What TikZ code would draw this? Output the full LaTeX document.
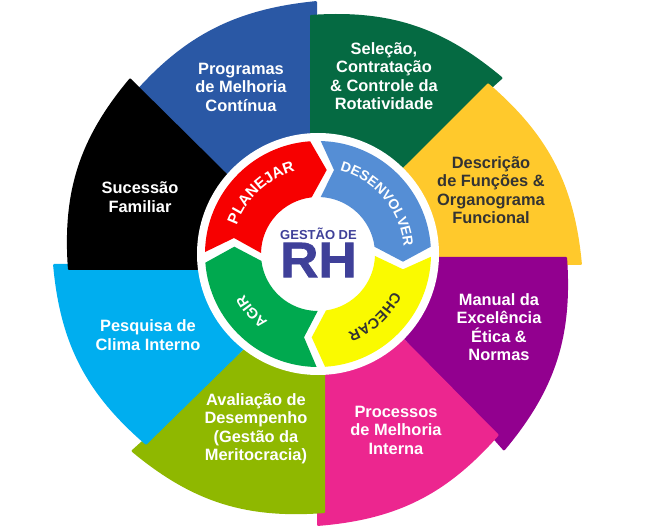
\documentclass[tikz,border=0pt]{standalone}
\usepackage{fontspec}
\setmainfont{Liberation Sans}
\newfontfamily\rhfont[BoldFeatures={FakeBold=1.2}]{Liberation Sans}
\usetikzlibrary{decorations.text}
\definecolor{petalblue}{HTML}{2A58A5}
\definecolor{petalgreen}{HTML}{056A42}
\definecolor{petalyellow}{HTML}{FFC92C}
\definecolor{petalpurple}{HTML}{92008F}
\definecolor{petalpink}{HTML}{EC268F}
\definecolor{petalolive}{HTML}{8FB800}
\definecolor{petalcyan}{HTML}{00AEEF}
\definecolor{ringred}{HTML}{F70000}
\definecolor{ringblue}{HTML}{558ED5}
\definecolor{ringyellow}{HTML}{FAFA00}
\definecolor{ringgreen}{HTML}{00A94F}
\definecolor{coreblue}{HTML}{3F4099}
\definecolor{darktext}{HTML}{333333}
\newcommand{\ringfont}{\fontsize{14.6}{14.6}\selectfont\bfseries}
\newcommand{\wideringfont}{\fontsize{15.4}{15.4}\selectfont\bfseries}
\newcommand{\longringfont}{\fontsize{14}{14}\selectfont\bfseries}

\begin{document}
\begin{tikzpicture}[x=1pt,y=-1pt,
    petal/.style={rounded corners=1pt},
    petal text/.style={font=\fontsize{16.4}{18.5}\selectfont\bfseries,align=center,text=white,inner sep=0pt},
    ring text/.style={decorate,decoration={text along path,text align=center,text={#1}}}]
    \useasboundingbox (0,0) rectangle (650,526);
    \coordinate (cent) at (318,254);

    \fill[petal,petalblue] (128,100) to[bend left=22] (317,1) -- (317,262) -- (225,172) -- cycle;
    \fill[petal,petalgreen] (310,15) to[bend left=22] (503,78) -- (404,167) -- (310,262) -- cycle;
    \fill[petal,petalyellow] (488,83) to[bend left=22] (582,265) -- (317,265) -- (404,167) -- cycle;
    \fill[petal,petalpurple] (567,257) to[bend left=22] (504,451) -- (405,340) -- (317,257) -- cycle;
    \fill[petal,petalpink] (499,435) to[bend left=22] (317,526) -- (317,257) -- (405,340) -- cycle;
    \fill[petal,petalolive] (325,513) to[bend left=22] (131,451) -- (243,350) -- (325,257) -- cycle;
    \fill[petal,petalcyan] (146,445) to[bend left=22] (53,264) -- (317,264) -- (243,350) -- cycle;
    \fill[petal,black] (68,270) to[bend left=22] (130,78) -- (225,172) -- (317,262) -- (317,270) -- cycle;

    \fill[white] (cent) circle[radius=121];

    \fill[ringred] ([shift={(181:113)}]cent) arc[start angle=181,end angle=266,radius=113]
        -- (326.7,170) -- ([shift={(263.6:57)}]cent) arc[start angle=263.6,end angle=181,radius=57]
        -- (234,238) -- cycle;
    \fill[ringblue] ([shift={(271.4:113)}]cent) arc[start angle=271.4,end angle=356.3,radius=113]
        -- (403,261.7) -- ([shift={(352.7:57)}]cent) arc[start angle=352.7,end angle=272.7,radius=57]
        -- (334,170) -- cycle;
    \fill[ringyellow] ([shift={(1.4:113)}]cent) arc[start angle=1.4,end angle=86.4,radius=113]
        -- (311.7,337.3) -- ([shift={(81.9:57)}]cent) arc[start angle=81.9,end angle=2,radius=57]
        -- (403,269.3) -- cycle;
    \fill[ringgreen] ([shift={(90.7:113)}]cent) arc[start angle=90.7,end angle=175.6,radius=113]
        -- (234.3,246.7) -- ([shift={(173:57)}]cent) arc[start angle=173,end angle=90.3,radius=57]
        -- (304,337.3) -- cycle;

    \path[ring text={|\wideringfont\color{white}|PLANEJAR}] ([shift={(182:86)}]cent) arc[start angle=182,end angle=272,radius=86];
    \path[ring text={|\longringfont\color{white}|DESENVOLVER}] ([shift={(272:86)}]cent) arc[start angle=272,end angle=368,radius=86];
    \path[ring text={|\ringfont\color{darktext}|CHECAR}] ([shift={(3:84)}]cent) arc[start angle=3,end angle=93,radius=84];
    \path[ring text={|\ringfont\color{white}|AGIR}] ([shift={(94:84)}]cent) arc[start angle=94,end angle=184,radius=84];

    \node[font=\fontsize{13}{13}\selectfont\bfseries,text=coreblue,inner sep=0pt] (gestao) at (318.5,234) {GESTÃO DE};
    \node[font=\rhfont\fontsize{50}{50}\selectfont\bfseries,text=coreblue,inner sep=0pt,xscale=1.06,transform shape] (rh) at (318.5,260) {RH};

    \node[petal text] (programas) at (241,87) {Programas\\de Melhoria\\Contínua};
    \node[petal text] (selecao) at (384,76) {Seleção,\\Contratação\\\& Controle da\\Rotatividade};
    \node[petal text,text=darktext] (descricao) at (491,190) {Descrição\\de Funções \&\\Organograma\\Funcional};
    \node[petal text] (manual) at (499,327) {Manual da\\Excelência\\Ética \&\\Normas};
    \node[petal text] (processos) at (396,430) {Processos\\de Melhoria\\Interna};
    \node[petal text] (avaliacao) at (256,429) {Avaliação de\\Desempenho\\(Gestão da\\Meritocracia)};
    \node[petal text] (pesquisa) at (148,335) {Pesquisa de\\Clima Interno};
    \node[petal text] (sucessao) at (140,197) {Sucessão\\Familiar};
\end{tikzpicture}
\end{document}
